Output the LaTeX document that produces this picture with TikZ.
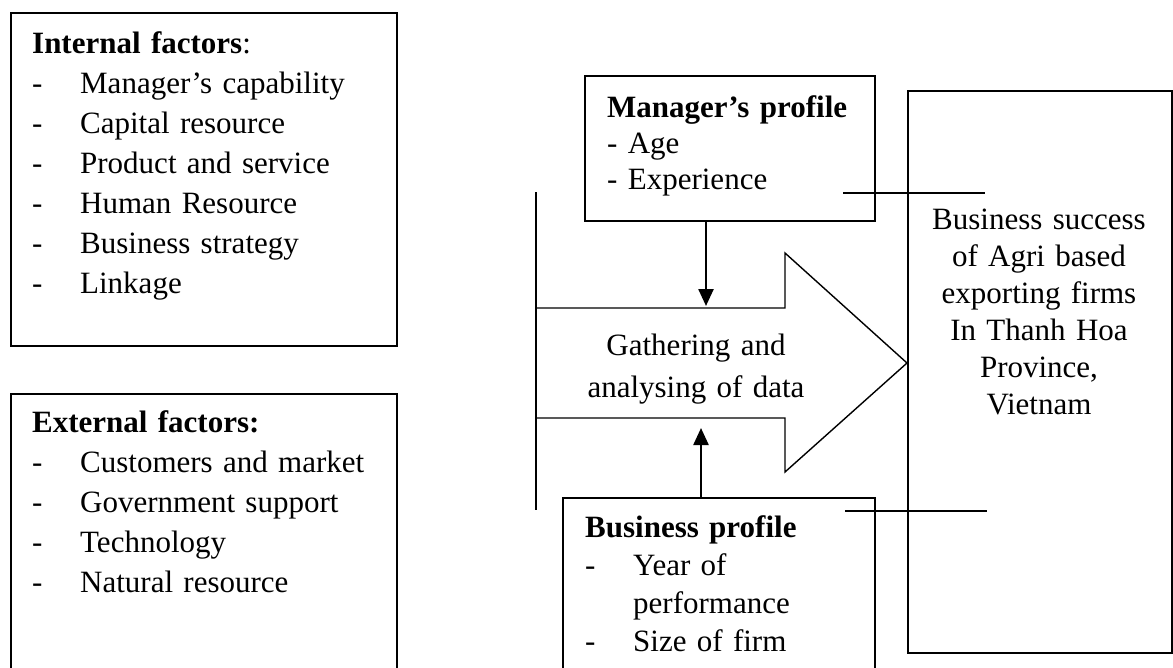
\documentclass[tikz,border=0pt]{standalone}
\usepackage{fontspec}
\setmainfont{Liberation Serif}
\usepackage{tikz}
\usetikzlibrary{arrows.meta}

\newcommand{\gach}{\makebox[48pt][l]{-}}

\tikzset{
    khung/.style={draw, line width=1.6pt, inner sep=0pt, anchor=north west},
    chu/.style={inner sep=0pt, anchor=base west, align=left, text width=#1},
    chugiua/.style={inner sep=0pt, anchor=base, align=center, text width=#1}
}

\begin{document}
\begin{tikzpicture}[x=1pt, y=-1pt, >={Triangle[length=17pt, width=15pt]},
    font=\fontsize{31}{40}\selectfont]
    \clip (0,0) rectangle (1173,667);

    % Các khung
    \node[khung, minimum width=386pt, minimum height=333pt] (noi) at (10,12) {};
    \node[khung, minimum width=386pt, minimum height=320pt] (ngoai) at (10,393) {};
    \node[khung, minimum width=290pt, minimum height=145pt] (quanly) at (584,75) {};
    \node[khung, minimum width=312pt, minimum height=220pt] (doanhnghiep) at (562,497) {};
    \node[khung, minimum width=264pt, minimum height=562pt] (thanhcong) at (907,90) {};

    % Nội dung các khung
    \node[chu=360pt] (noi-chu) at (32,53) {\textbf{Internal factors}:\\
        \gach Manager's capability\\ \gach Capital resource\\
        \gach Product and service\\ \gach Human Resource\\
        \gach Business strategy\\ \gach Linkage};
    \node[chu=360pt] (ngoai-chu) at (32,432) {\textbf{External factors:}\\
        \gach Customers and market\\ \gach Government support\\
        \gach Technology\\ \gach Natural resource};
    \node[chu=260pt, font=\fontsize{31}{36}\selectfont] (quanly-chu) at (607,117)
        {\textbf{Manager's profile}\\- Age\\- Experience};
    \node[chu=280pt, font=\fontsize{31}{38}\selectfont] (doanhnghiep-chu) at (585,537)
        {\textbf{Business profile}\\ \gach Year of\\ \hspace*{48pt}performance\\
        \gach Size of firm};
    \node[chugiua=250pt, font=\fontsize{31}{37}\selectfont] (thanhcong-chu) at (1039,229)
        {Business success\\of Agri based\\exporting firms\\In Thanh Hoa\\Province,\\Vietnam};

    % Mũi tên lớn
    \draw[line width=1.4pt, line join=miter] (536,308) -- (785,308) -- (785,253)
        -- (907,363) -- (785,472) -- (785,418) -- (536,418);
    \draw[line width=2.8pt] (536,192) -- (536,510);
    \node[chugiua=250pt, font=\fontsize{31}{42}\selectfont] (xuly) at (696,355)
        {Gathering and\\analysing of data};

    % Các mũi tên và đường nối
    \coordinate (mui-tren) at (706,306);
    \coordinate (mui-duoi) at (701,428);
    \draw[->, line width=2.4pt] (quanly.south -| mui-tren) -- (mui-tren);
    \draw[->, line width=2.4pt] (doanhnghiep.north -| mui-duoi) -- (mui-duoi);

    \coordinate (ql-ra) at (843,193);
    \coordinate (tc-vao1) at (985,193);
    \coordinate (dn-ra) at (845,511);
    \coordinate (tc-vao2) at (987,511);
    \draw[line width=1.6pt] (ql-ra) -- (tc-vao1);
    \draw[line width=1.6pt] (dn-ra) -- (tc-vao2);
\end{tikzpicture}
\end{document}
